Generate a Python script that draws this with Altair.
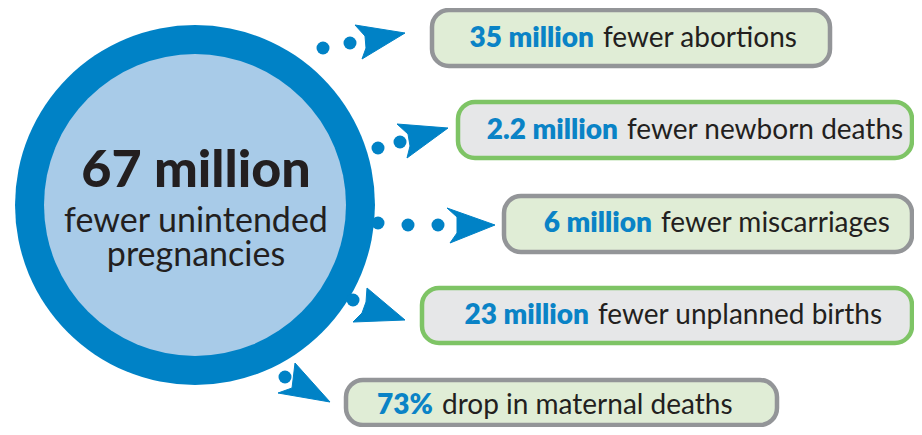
import altair as alt
import pandas as pd

# ---- content ----
headline_value = "67 million"
headline_lines = ["fewer unintended", "pregnancies"]
stat_values = ["35 million", "2.2 million", "6 million", "23 million", "73%"]
stat_texts = ["fewer abortions", "fewer newborn deaths", "fewer miscarriages",
              "fewer unplanned births", "drop in maternal deaths"]

# ---- layout (reference pixel coordinates) ----
box_x0 = [432, 458, 504, 422, 346]
box_x1 = [830, 912, 912, 912, 777]
box_y0 = [10, 102, 196, 288, 380]
box_y1 = [66, 158, 252, 343, 425]
text_base = [47, 139, 232, 324, 414]
split_x = [598, 622, 656, 593, 437]
box_fill = ["#e0edd6", "#e6e7e8", "#e0edd6", "#e6e7e8", "#e0edd6"]
box_stroke = ["#939598", "#7ec465", "#939598", "#7ec465", "#939598"]

circle_cx, circle_cy = 195, 205
ring_diam, inner_diam = 360, 302

dot_arrow = [1, 1, 2, 2, 3, 3, 3, 4, 5]
dot_x = [323, 350, 378, 400, 378, 408, 438, 353, 285]
dot_y = [48, 43, 148, 142, 223, 225, 225, 300, 377]

head_arrow = [1] * 5 + [2] * 5 + [3] * 5 + [4] * 5 + [5] * 5
head_x = [355, 405, 362, 366, 365,
          397, 448, 407, 410, 408,
          447, 495, 450, 457, 457,
          367, 405, 353, 362, 366,
          295, 330, 278, 292, 293]
head_y = [25, 33, 59, 48, 36,
          124, 128, 158, 146, 134,
          208, 225, 243, 233, 217,
          288, 320, 322, 313, 302,
          363, 402, 393, 388, 380]

BLUE = "#0082c6"
TEXT_BLUE = "#0a83c6"
LIGHT_BLUE = "#a8cbe8"
BLACK = "#231f20"
FONT = "Lato"

W, H = 906, 419
xs = alt.Scale(domain=[8, 914], nice=False, zero=False)
ys = alt.Scale(domain=[8, 427], nice=False, zero=False, reverse=True)
X = lambda f: alt.X(f, type="quantitative", scale=xs, axis=None)
Y = lambda f: alt.Y(f, type="quantitative", scale=ys, axis=None)

# circles
circ = pd.DataFrame({"x": [circle_cx, circle_cx], "y": [circle_cy, circle_cy],
                     "s": [ring_diam ** 2, inner_diam ** 2],
                     "c": [BLUE, LIGHT_BLUE], "o": [0, 1]})
circles = alt.Chart(circ).mark_point(filled=True, opacity=1, shape="circle", strokeWidth=0).encode(
    x=X("x"), y=Y("y"),
    size=alt.Size("s:Q", scale=None, legend=None),
    color=alt.Color("c:N", scale=None, legend=None),
    order=alt.Order("o:Q"),
)

# center text
big_df = pd.DataFrame({"x": [196], "y": [187], "t": [headline_value]})
center_big = alt.Chart(big_df).mark_text(
    font=FONT, fontWeight=900, fontSize=52, color=BLACK, align="center", baseline="alphabetic"
).encode(x=X("x"), y=Y("y"), text="t:N")
small_df = pd.DataFrame({"x": [196], "y": [232], "t": [headline_lines]})
center_small = alt.Chart(small_df).mark_text(
    font=FONT, fontSize=34, lineHeight=34, color=BLACK, align="center", baseline="alphabetic"
).encode(x=X("x"), y=Y("y"), text="t")

# dots
dots_df = pd.DataFrame({"x": dot_x, "y": dot_y, "a": dot_arrow})
dots = alt.Chart(dots_df).mark_point(filled=True, opacity=1, shape="circle", size=169,
                                     color=BLUE, strokeWidth=0).encode(x=X("x"), y=Y("y"))

# arrow heads (filled polygons)
head_df = pd.DataFrame({"x": head_x, "y": head_y, "a": head_arrow,
                        "i": list(range(len(head_x)))})
heads = alt.Chart(head_df).mark_line(fill=BLUE, stroke=BLUE, strokeWidth=1, interpolate="linear-closed").encode(
    x=X("x"), y=Y("y"), detail="a:N", order="i:Q")

# boxes
box_df = pd.DataFrame({"x0": box_x0, "x1": box_x1, "y0": box_y0, "y1": box_y1,
                       "f": box_fill, "s": box_stroke,
                       "split": split_x, "v": stat_values, "t": stat_texts,
                       "yb": text_base})
boxes = alt.Chart(box_df).mark_rect(cornerRadius=17, strokeWidth=4.5).encode(
    x=X("x0"), x2="x1", y=Y("y0"), y2="y1",
    fill=alt.Fill("f:N", scale=None, legend=None),
    stroke=alt.Stroke("s:N", scale=None, legend=None),
)
vals = alt.Chart(box_df).mark_text(
    font=FONT, fontWeight=800, fontSize=28, color=TEXT_BLUE, align="right",
    baseline="alphabetic", dx=-4
).encode(x=X("split"), y=Y("yb"), text="v:N")
txts = alt.Chart(box_df).mark_text(
    font=FONT, fontSize=28, color=BLACK, align="left", baseline="alphabetic", dx=5
).encode(x=X("split"), y=Y("yb"), text="t:N")

chart = alt.layer(circles, center_big, center_small, dots, heads, boxes, vals, txts).properties(
    width=W, height=H, padding=0, autosize=alt.AutoSizeParams(type="none"),
    background="white"
).configure_view(stroke=None)

chart.save("out.html", embed_options={"renderer": "svg", "actions": False})
